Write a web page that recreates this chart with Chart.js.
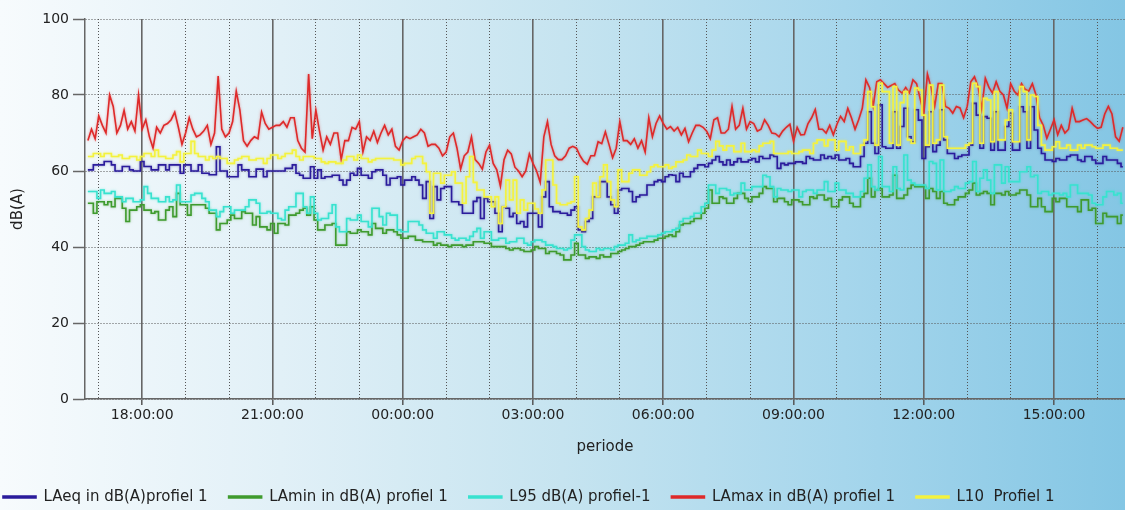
<!DOCTYPE html>
<html>
<head>
<meta charset="utf-8">
<title>Geluidsmeting profiel 1</title>
<script src="https://cdn.jsdelivr.net/npm/chart.js@4.4.1/dist/chart.umd.min.js"></script>
<style>
  html, body { margin: 0; padding: 0; }
  body {
    width: 1125px;
    height: 510px;
    overflow: hidden;
    background: linear-gradient(to right, #f7fbfd 0%, #e1f0f7 25%, #c6e4f0 50%, #a6d6ec 75%, #84c6e4 100%);
  }
  #wrap { position: relative; width: 1125px; height: 510px; }
</style>
</head>
<body>
<div id="wrap"><canvas id="chart"></canvas></div>
<script>
/* global Chart */
{
  ('use strict');

  /* measurement interval: every 5 minutes, first value at 16:45 (minutes counted from day-1 midnight) */
  const startMinute = 1005;
  const stepMinutes = 5;

  const xTickLabels = ['18:00:00', '21:00:00', '00:00:00', '03:00:00', '06:00:00', '09:00:00', '12:00:00', '15:00:00'];
  const yTicks = [0, 20, 40, 60, 80, 100];

  const laeq = [
    60.3, 60.3, 61.6, 61.6, 61.6, 62.5, 62.5, 61.6, 60, 60,
    61.2, 61.2, 60.3, 60, 60, 62.5, 61.2, 61.2, 60.3, 60.3,
    61.6, 61.6, 60.3, 61.6, 61.6, 61.6, 59.4, 61.6, 61.6, 60,
    60, 61.6, 59.4, 59.4, 59, 59, 66.4, 60, 60, 58.5,
    58.5, 58.5, 61.6, 60.3, 60.3, 58.5, 58.5, 60.5, 60.5, 58.5,
    60, 60, 60, 60, 60,
    60.7, 60.7, 61.6, 59.4, 58.9, 58.1, 58.1, 61.1, 58.1, 60.3,
    58.1, 58.5, 58.5, 58.9, 58.9, 57.6, 56.3, 57.6, 59.4, 58.9,
    60.7, 58.9, 58.9, 58.1, 59.8, 60.3, 60.3, 58.9, 56.3, 58.1,
    58.1, 58.5, 56.3, 57.6, 57.6, 58.5, 57.6, 56.3, 52.8, 57.2,
    47.5, 55.9, 52.4, 55.4, 55.9, 55.9, 51.9, 51.9, 51.1, 48.9,
    48.9, 48.9, 52, 53,
    47.5, 52.8, 51.9, 51.9, 48.9, 44, 50.6, 50.2, 48, 48.9,
    46.2, 46.7, 45.3, 48.9, 48.9, 48.9, 45.3, 53.2, 57.2, 50.6,
    49.3, 49.3, 48.9, 48.9, 48.4, 49.7, 50.6, 44.5, 44, 46.7,
    47.5, 53.2, 53.2, 57.2, 57.2, 53.2, 51.1, 48.9, 55, 55.4,
    55.4, 54.6, 51.9, 53.2, 53.7, 53.7, 56.3, 56.3, 57.2, 57.6,
    57.2, 58.5, 59,
    58.9, 57.2, 59.4, 58.5, 58.5, 59.8, 60.7, 61.6, 61.6, 61.1,
    62, 62.9, 63.8, 62.4, 61.6, 62.9, 61.6, 62.4, 63.3, 62.4,
    62.4, 62.9, 63.3, 62.4, 63.8, 63.3, 63.3, 64.2, 63.8, 60.7,
    62, 61.6, 62, 62, 62.4, 62.4, 62, 63.8, 63.3, 62.9,
    62.9, 64.2, 63.3, 63.8, 63.3, 64.2, 62.9, 62.9, 63.3, 62,
    61.1, 61.1, 63.8, 67.3,
    75.6, 67.3, 64.6, 77.4, 66.4, 66, 66, 75.6, 66, 71.7,
    76.5, 69, 67.7, 76.1, 73.4, 63.3, 66.4, 75.6, 65.1, 66.8,
    76.1, 68.2, 64.6, 64.6, 63.3, 63.8, 64.2, 64.2, 66.8, 77.8,
    74.7, 66, 74.3, 73.9, 65.5, 75.6, 65.5, 65.5, 71.7, 75.2,
    65.5, 65.5, 76.9, 75.6, 66, 76.9, 70.8, 66, 64.6, 62.9,
    62.9, 62.5, 63.3, 62.9, 62.9, 63.8, 64.2, 64.2, 62.9, 62.5,
    63.8, 63.8, 62.9, 62, 62, 63.8, 62.9, 62.9, 62.9, 62,
    61.1,
  ];

  const lamin = [
    51.5, 51.5, 48.9, 51.9, 51.9, 51.1, 51.9, 50.6, 52.8, 52.8,
    50.2, 46.7, 49.7, 49.7, 50.6, 51.1, 49.7, 49.7, 48.9, 49.3,
    47.1, 47.1, 49.7, 50.6, 48, 54.1, 51.1, 51.1, 48.4, 51.1,
    51.1, 51.1, 51.1, 50.2, 48.9, 48.9, 44.5, 46.2, 46.2, 47.1,
    48.4, 47.5, 47.5, 49.3, 48.9, 48.9, 45.8, 48, 45.3, 45.3,
    44.5, 46.2, 43.6, 46.2, 46.2,
    45.8, 48.4, 48.4, 48.9, 49.7, 50.2, 48.4, 50.6, 47.1, 44.5,
    44.5, 45.8, 45.8, 46.2, 40.5, 40.5, 40.5, 44, 43.6, 43.6,
    44.5, 44, 44, 43.2, 46.2, 44.9, 44.9, 43.6, 44.5, 44.5,
    44, 43.2, 42.3, 42.3, 42.8, 42.8, 41.8, 41.8, 41.4, 41.4,
    41.4, 40.5, 41, 40.5, 40.5, 40.1, 40.5, 40.5, 40.5, 40.1,
    40.5, 40.5, 41.4, 41.4,
    41.4, 41, 41, 40.1, 40.1, 40.1, 40.1, 39.6, 39.2, 39.6,
    39.6, 39.2, 38.8, 38.8, 39.2, 40.1, 39.6, 39.6, 38.3, 38.8,
    38.8, 38.3, 37.9, 36.6, 36.6, 37.9, 41, 37.9, 37.9, 37,
    37.4, 37.4, 37, 37.9, 37.4, 37.4, 38.3, 38.3, 38.8, 39.2,
    39.6, 40.1, 40.1, 40.5, 41, 41.4, 41.4, 41.4, 41.8, 42.3,
    42.3, 42.8, 43.2,
    42.8, 44, 45.8, 46.2, 46.2, 46.7, 47.5, 47.5, 48.9, 50.2,
    55, 51.5, 51.5, 53.2, 52.8, 51.5, 51.5, 52.8, 54.1, 54.1,
    52.8, 51.9, 53.2, 53.2, 54.1, 55.9, 55.4, 55.4, 51.9, 52.8,
    52.8, 51.9, 51.1, 52.4, 52.4, 51.9, 51.1, 51.1, 53.2, 52.8,
    53.7, 53.7, 52.4, 52.8, 50.6, 50.6, 52.4, 53.2, 53.2, 51.5,
    50.6, 50.6, 53.2, 54.1,
    58.1, 53.2, 55, 55.4, 53.2, 53.2, 53.7, 58.9, 52.8, 52.8,
    53.7, 55.4, 56.3, 55.9, 55.9, 55.9, 52.8, 55.4, 54.6, 52.8,
    54.6, 51.5, 51.1, 51.1, 52.4, 53.2, 53.2, 54.1, 55, 56.8,
    53.7, 54.1, 54.6, 54.1, 51.1, 54.1, 54.1, 53.7, 54.6, 53.7,
    53.7, 54.1, 55, 55, 53.7, 50.6, 50.6, 52.8, 50.6, 49.3,
    49.3, 52.8, 51.9, 52.8, 52.8, 50.6, 50.6, 50.6, 49.3, 52.4,
    52.4, 49.7, 50.2, 46.2, 46.2, 48.9, 48, 48, 48, 46.2,
    48.4,
  ];

  const l95 = [
    54.6, 54.6, 54.6, 52.8, 55, 54.1, 54.1, 54.6, 53.2, 53.2,
    51.9, 52.8, 52.8, 51.9, 51.9, 52.4, 55.9, 54.1, 52.8, 52.8,
    51.9, 51.9, 53.2, 51.9, 52.4, 56.3, 51.9, 51.9, 51.9, 53.7,
    54.1, 54.1, 52.8, 51.9, 49.7, 49.7, 48, 49.3, 50.6, 50.6,
    48.9, 49.7, 49.7, 49.7, 50.6, 52.4, 52.4, 51.5, 48.9, 48.9,
    49.3, 48.9, 48.9, 47.5, 47.1,
    49.7, 50.6, 50.6, 54.1, 54.1, 50.6, 48.9, 53.2, 48.9, 47.1,
    47.5, 47.5, 48.9, 51.1, 45.3, 44, 44, 47.5, 47.1, 47.1,
    48.4, 46.7, 46.7, 45.3, 50.2, 50.2, 48, 45.8, 48.9, 48.4,
    48.4, 44.5, 44, 44, 46.7, 46.7, 46.7, 45.8, 44.5, 43.6,
    43.6, 42.3, 44, 44, 43.2, 43.2, 42.3, 41.8, 42.3, 42.3,
    41.8, 42.8, 44, 44.9,
    42.3, 44, 44, 41.8, 41.8, 42.3, 42.3, 41, 41.4, 41.4,
    42.3, 42.3, 41, 40.5, 41.4, 41.8, 41.8, 41.4, 40.5, 40.5,
    40.1, 39.6, 39.6, 39.2, 39.6, 41.8, 43.2, 43.2, 40.1, 39.2,
    38.8, 38.8, 39.6, 39.2, 39.6, 39.6, 39.2, 40.1, 40.5, 40.5,
    41, 43.2, 41.4, 41.8, 42.3, 42.3, 42.8, 42.8, 42.8, 43.2,
    43.6, 44, 44,
    44.5, 44.9, 46.7, 47.5, 47.5, 48, 48.9, 48.9, 50.6, 51.5,
    56.3, 56.3, 54.1, 55.4, 55.4, 55, 53.7, 54.1, 54.1, 56.8,
    55, 55, 55.9, 55.9, 55.9, 58.9, 58.5, 55.9, 53.2, 55.4,
    55, 55, 54.6, 55, 55, 53.2, 54.6, 55, 55, 54.1,
    55, 55, 57.2, 54.6, 54.6, 56.8, 55, 55, 54.1, 54.1,
    53.2, 53.2, 54.6, 58.1,
    61.6, 55.9, 55, 63.8, 55.9, 55.9, 54.6, 61.1, 55.4, 55,
    64.2, 57.6, 56.8, 56.3, 56.3, 56.3, 55.4, 62.5, 62, 55,
    62.9, 54.6, 54.6, 55, 55.9, 55.4, 55.4, 56.8, 57.2, 62.5,
    54.6, 58.1, 60.3, 57.6, 54.1, 61.6, 61.6, 56.8, 61.1, 57.2,
    57.2, 57.2, 59.8, 59.8, 61.1, 58.5, 58.9, 54.1, 54.6, 54.6,
    53.7, 54.1, 54.1, 53.7, 54.1, 53.2, 56.3, 56.3, 54.1, 54.1,
    54.1, 53.7, 51.5, 51.1, 51.1, 53.2, 54.6, 54.6, 53.7, 54.1,
    51.5,
  ];

  const lamax = [
    68, 71, 68.5, 74.5, 72, 70, 80, 77, 70, 72,
    76, 71, 73, 70.5, 80, 71, 73.5, 69, 66, 71.5,
    70, 72, 72.5, 73.5, 75.5, 71.5, 67, 70, 74, 71,
    69, 69.5, 70.5, 72, 67, 70, 85, 71, 69, 70,
    73, 81, 76, 68, 66.5, 68, 69, 68.5, 75.5, 72.5,
    71, 71.5, 72, 72, 73,
    71.5, 74, 74, 68, 66, 65, 85.5, 68.5, 76, 70.5,
    65.5, 69, 67, 70, 70, 63, 68, 68, 71.5, 71,
    73, 65, 69, 68, 70.5, 67.5, 70, 72, 69.5, 71,
    66.5, 65.5, 68, 69, 68.5, 69, 69.5, 71, 70, 66.5,
    67, 67, 66, 64, 65, 69, 70, 66, 60.5, 64,
    65, 69, 63, 62,
    60.5, 65, 66.8, 62, 60.3, 56, 63, 65.5, 64.5, 61,
    60, 58.5, 60, 64.5, 62, 60, 57, 69, 73, 67,
    64, 63, 63, 64, 66, 66.5, 66, 64, 62.5, 61.8,
    64, 64, 67.7, 67.2, 70.3, 67, 63.5, 66, 73, 68,
    68, 67, 68.5, 66, 68, 65, 74, 69, 72.5, 74.5,
    72.5, 71, 71.7,
    70.5, 71.5, 69.5, 71.2, 67.7, 70, 72, 72, 71.5, 70.5,
    68.5, 73.5, 74, 70, 70, 71, 77, 71, 72, 76.5,
    71, 73, 72.5, 70.5, 71, 73.5, 72, 70, 69.8, 69,
    70.5, 71.5, 72.3, 67.8, 71.5, 69.5, 69.6, 72.5, 74, 76.2,
    71, 71, 70, 72, 69.5, 72.3, 74.4, 73, 76.5, 74,
    71, 73.5, 76.5, 84,
    82, 77, 83.5, 84, 83, 82, 82.5, 83, 81.3, 80.5,
    82, 80.5, 84, 83, 79, 75, 85.5, 82, 77, 83,
    83, 77, 76.5, 75.2, 77, 76.6, 74, 77, 83.5, 84.8,
    82.2, 76.3, 84.4, 82, 80.5, 83.5, 81, 80, 76.5, 83,
    81, 80, 83, 81.5, 81, 83, 80, 74, 72, 68.6,
    71, 73.5, 69.5, 72, 70, 71, 76.5, 73, 73, 73.4,
    73.8, 73, 72, 71.2, 71.5, 75, 77, 75, 69, 67.8,
    71.5,
  ];

  const l10 = [
    63.8, 63.8, 64.6, 64.6, 63.8, 64.6, 64.6, 63.8, 63.8, 64.2,
    63.3, 63.3, 63.8, 63.8, 62.9, 63.8, 64.6, 64.6, 63.8, 65.5,
    63.8, 63.8, 63.3, 63.3, 64.2, 65.1, 62.4, 64.6, 64.6, 67.8,
    64.6, 63.8, 63.8, 62.9, 63.8, 63.3, 63.8, 63.3, 63.3, 62,
    62, 62.9, 63.3, 63.8, 63.8, 62.9, 62.9, 63.3, 63.3, 62,
    63.3, 64.2, 64.2, 63.3, 63.8,
    64.6, 64.6, 65.5, 63.8, 62.9, 63.8, 63.8, 63.8, 63.3, 63.3,
    62.4, 62, 62.4, 62.4, 62, 62, 62.9, 63.8, 63.8, 62.9,
    64.2, 63.3, 63.3, 62.4, 62.9, 63.3, 63.3, 63.3, 63.3, 63.3,
    62.9, 62.9, 61.6, 62, 62, 63.3, 63.8, 63.8, 62, 59.8,
    48.9, 59.4, 59.4, 56.8, 58.9, 58.9, 59.8, 56.8, 56.8, 51.5,
    58.5, 63.8, 57, 55,
    55, 53.2, 53.2, 50.6, 53.2, 46.2, 50.6, 57.6, 52.4, 57.6,
    48.9, 52.4, 49.7, 51.5, 51.5, 50, 48.9, 55, 62.9, 62.9,
    56.3, 51.5, 51.1, 51.1, 51.5, 51.9, 58.5, 45.3, 44.5, 47.5,
    49.7, 56.8, 53.2, 58.5, 61.6, 57.2, 52.4, 50.6, 60.3, 57.2,
    57.2, 59.4, 60.3, 60.3, 58.9, 58.9, 59.8, 61.1, 61.6, 61.1,
    61.1, 61.6, 60.7,
    61.1, 62.4, 62.4, 62.9, 64.2, 63.8, 63.8, 65.5, 64.6, 64.6,
    63.8, 65.5, 67.8, 66.6, 65.5, 66.6, 66.6, 65.1, 65.1, 67.3,
    65.1, 65.1, 65.5, 65.1, 66.6, 67.3, 67.3, 67.8, 64.6, 64.6,
    64.6, 64.6, 65.1, 64.6, 64.6, 65.1, 65.5, 65.5, 64.6, 67.3,
    68.2, 68.2, 66.6, 68.2, 68.2, 65.5, 67.8, 67.8, 65.5, 66.4,
    64.6, 64.6, 66.8, 68.2,
    80.9, 76.9, 66.8, 83.1, 80.9, 80.9, 67.3, 82.2, 66.8, 78,
    80.9, 68.2, 67.3, 81.8, 81.3, 74.7, 66.8, 82.6, 67.3, 68.2,
    82.6, 69, 66, 66, 66, 66, 66, 66.8, 67.3, 83.1,
    82.2, 67.3, 79.1, 78.7, 67.7, 80.9, 68.2, 68.2, 73.4, 76.1,
    67.7, 67.7, 82.2, 80.9, 68.2, 80, 79.6, 72, 66.8, 65.5,
    65.5, 66.4, 67.7, 66, 66, 66.8, 65.5, 65.5, 66.8, 66,
    66.8, 66.8, 66.4, 66, 66, 66.8, 66.8, 66, 66, 65.5,
    65.5,
  ];

  /* x axis range in minutes: 16:41 .. 16:38 next day */
  const xMin = 1001;
  const xMax = 2438;

  const toMinutes = function (label) {
    const hour = parseInt(label.slice(0, 2), 10);
    return (hour >= 16 ? hour : hour + 24) * 60;
  };

  const majorLabels = {};
  xTickLabels.forEach(function (label) {
    majorLabels[toMinutes(label)] = label;
  });

  /* hourly grid lines 17:00 .. 16:00 */
  const hourTicks = [];
  for (let m = 1020; m <= 2400; m += 60) {
    hourTicks.push(m);
  }

  const isMajor = function (context) {
    return !!(context.tick && majorLabels[context.tick.value]);
  };

  const toPoints = function (values) {
    return values.map(function (v, i) {
      return { x: startMinute + i * stepMinutes, y: v };
    });
  };

  const makeDataset = function (label, values, color, glow, stepped, order) {
    return {
      label: label,
      data: toPoints(values),
      borderColor: color,
      backgroundColor: color,
      glowColor: glow,
      borderWidth: 1.6,
      pointRadius: 0,
      stepped: stepped,
      tension: 0,
      order: order,
    };
  };

  /* soft halo round the lines, like the original export */
  const lineGlow = {
    id: 'lineGlow',
    beforeDatasetDraw: function (chart, args) {
      const ds = chart.data.datasets[args.index];
      chart.ctx.save();
      chart.ctx.shadowColor = ds.glowColor;
      chart.ctx.shadowBlur = 2.5;
    },
    afterDatasetDraw: function (chart) {
      chart.ctx.restore();
    },
  };

  Chart.defaults.font.family = '"DejaVu Sans", Verdana, sans-serif';
  Chart.defaults.color = '#222';

  const ctx = document.getElementById('chart').getContext('2d');

  // eslint-disable-next-line
  const chart = new Chart(ctx, {
    type: 'line',
    data: {
      datasets: [
        makeDataset('LAeq in dB(A)profiel 1', laeq, '#2b1c9c', 'rgba(43,28,156,0.5)', 'middle', 2),
        makeDataset('LAmin in dB(A) profiel 1', lamin, '#3f9b2e', 'rgba(63,155,46,0.5)', 'middle', 4),
        makeDataset('L95 dB(A) profiel-1', l95, '#38e2cf', 'rgba(56,226,207,0.6)', 'middle', 3),
        makeDataset('LAmax in dB(A) profiel 1', lamax, '#de2a2a', 'rgba(222,42,42,0.5)', false, 1),
        makeDataset('L10  Profiel 1', l10, '#f4f23e', 'rgba(244,242,62,0.7)', 'middle', 0),
      ],
    },
    plugins: [lineGlow],
    options: {
      responsive: true,
      maintainAspectRatio: false,
      animation: false,
      events: [],
      layout: {
        padding: { left: -18, right: 0, top: 19, bottom: -4.5 },
      },
      scales: {
        x: {
          type: 'linear',
          min: xMin,
          max: xMax,
          afterBuildTicks: function (scale) {
            scale.ticks = hourTicks.map(function (v) {
              return { value: v };
            });
          },
          afterFit: function (scale) {
            scale.height = 69.5;
          },
          ticks: {
            autoSkip: false,
            maxRotation: 0,
            padding: 2,
            font: { size: 14 },
            color: '#222',
            callback: function (value) {
              return majorLabels[value] || '';
            },
          },
          grid: {
            color: function (c) {
              return isMajor(c) ? '#666' : '#555';
            },
            lineWidth: function (c) {
              return isMajor(c) ? 1.6 : 1;
            },
            tickLength: 6,
            tickWidth: 1.5,
            tickColor: function (c) {
              return isMajor(c) ? '#555' : 'rgba(0,0,0,0)';
            },
          },
          border: {
            color: '#666',
            width: 1.5,
            dash: function (c) {
              return c.tick && !isMajor(c) ? [1, 2] : [];
            },
          },
          title: {
            display: true,
            text: 'periode',
            font: { size: 15 },
            color: '#222',
            padding: { top: 0, bottom: 12.5 },
          },
        },
        y: {
          min: yTicks[0],
          max: yTicks[yTicks.length - 1],
          afterFit: function (scale) {
            scale.width = 103;
          },
          ticks: {
            stepSize: yTicks[1] - yTicks[0],
            padding: 4,
            font: { size: 14 },
            color: '#222',
          },
          grid: {
            color: '#555',
            lineWidth: 1,
            tickLength: 12,
            tickWidth: 1.5,
            tickColor: '#666',
          },
          border: {
            color: '#666',
            width: 1.5,
            dash: [1, 2],
          },
          title: {
            display: true,
            text: 'dB(A)',
            font: { size: 15 },
            color: '#222',
            padding: { top: 27, bottom: 0 },
          },
        },
      },
      plugins: {
        tooltip: { enabled: false },
        legend: {
          position: 'bottom',
          align: 'start',
          labels: {
            boxWidth: 33,
            boxHeight: 2,
            padding: 21,
            font: { size: 15 },
            color: '#222',
            sort: function (a, b) {
              return a.datasetIndex - b.datasetIndex;
            },
          },
        },
      },
    },
  });
}
</script>
</body>
</html>
